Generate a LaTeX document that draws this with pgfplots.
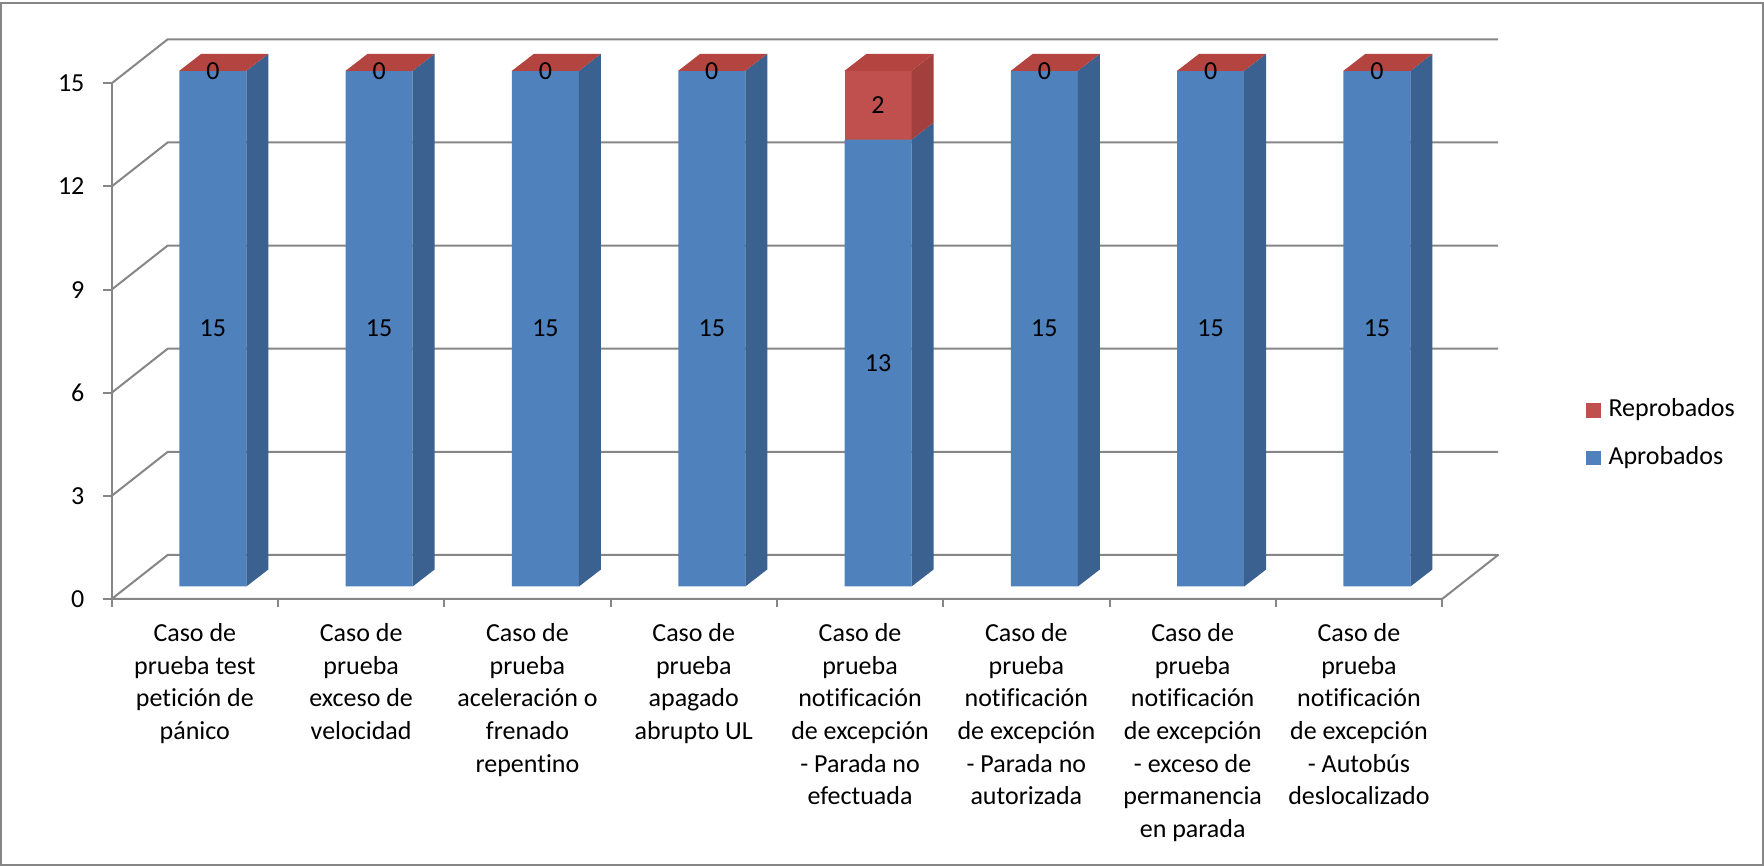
\documentclass[border=0pt]{standalone}
\usepackage{fontspec}
\setmainfont{Carlito}[Ligatures={NoCommon}]
\usepackage{pgfplots}
\pgfplotsset{compat=1.18}
\definecolor{gridc}{HTML}{868686}
\definecolor{blueF}{HTML}{4F81BD}
\definecolor{blueS}{HTML}{3A6190}
\definecolor{redF}{HTML}{C0504D}
\definecolor{redS}{HTML}{A33F3C}
\definecolor{redT}{HTML}{B4443F}
\newcommand\lbl{\fontsize{10.4}{13.04}\selectfont}

\begin{document}
\begin{tikzpicture}
% ---------- main axis: front plane, walls, ticks, labels ----------
\begin{axis}[
  at={(0pt,0pt)}, anchor=south west,
  x=66.52pt, y=13.752pt,
  xmin=0, xmax=8, ymin=0, ymax=15,
  clip=false,
  axis line style={draw=none},
  major tick length=0pt,
  tick style={draw=none},
  xtick={0.5,1.5,2.5,3.5,4.5,5.5,6.5,7.5},
  xticklabels={
    {Caso de\\prueba test\\petición de\\pánico},
    {Caso de\\prueba\\exceso de\\velocidad},
    {Caso de\\prueba\\aceleración o\\frenado\\repentino},
    {Caso de\\prueba\\apagado\\abrupto UL},
    {Caso de\\prueba\\notificación\\de excepción\\- Parada no\\efectuada},
    {Caso de\\prueba\\notificación\\de excepción\\- Parada no\\autorizada},
    {Caso de\\prueba\\notificación\\de excepción\\- exceso de\\permanencia\\en parada},
    {Caso de\\prueba\\notificación\\de excepción\\- Autobús\\deslocalizado}},
  ytick={0,3,6,9,12,15},
  tick label style={font=\lbl, text=black},
  xticklabel style={align=center, anchor=north, yshift=-6.3pt},
  yticklabel style={anchor=east, xshift=-7.4pt},
  /pgf/number format/assume math mode=true,
]
\addplot[draw=none, forget plot] coordinates {(0,0)};
% floor
\draw[gridc, line width=0.8pt, line join=round] (axis cs:0,0) -- (axis cs:0.3367,1.28) -- (axis cs:8.3367,1.28) -- (axis cs:8,0) -- cycle;
% side wall diagonals + back wall grid lines
\draw[gridc, line width=0.8pt, line join=round] (axis cs:0,3) -- (axis cs:0.3367,4.28) -- (axis cs:8.3367,4.28);
\draw[gridc, line width=0.8pt, line join=round] (axis cs:0,6) -- (axis cs:0.3367,7.28) -- (axis cs:8.3367,7.28);
\draw[gridc, line width=0.8pt, line join=round] (axis cs:0,9) -- (axis cs:0.3367,10.28) -- (axis cs:8.3367,10.28);
\draw[gridc, line width=0.8pt, line join=round] (axis cs:0,12) -- (axis cs:0.3367,13.28) -- (axis cs:8.3367,13.28);
\draw[gridc, line width=0.8pt, line join=round] (axis cs:0,15) -- (axis cs:0.3367,16.28) -- (axis cs:8.3367,16.28);
% front vertical axis
\draw[gridc, line width=0.8pt] (axis cs:0,0) -- (axis cs:0,15);
% y ticks
\draw[gridc, line width=0.8pt] (axis cs:0,0) -- ++(-3.5pt,0);
\draw[gridc, line width=0.8pt] (axis cs:0,3) -- ++(-3.5pt,0);
\draw[gridc, line width=0.8pt] (axis cs:0,6) -- ++(-3.5pt,0);
\draw[gridc, line width=0.8pt] (axis cs:0,9) -- ++(-3.5pt,0);
\draw[gridc, line width=0.8pt] (axis cs:0,12) -- ++(-3.5pt,0);
\draw[gridc, line width=0.8pt] (axis cs:0,15) -- ++(-3.5pt,0);
% x ticks (category boundaries)
\draw[gridc, line width=0.8pt] (axis cs:0,0) -- ++(0,-3.2pt);
\draw[gridc, line width=0.8pt] (axis cs:1,0) -- ++(0,-3.2pt);
\draw[gridc, line width=0.8pt] (axis cs:2,0) -- ++(0,-3.2pt);
\draw[gridc, line width=0.8pt] (axis cs:3,0) -- ++(0,-3.2pt);
\draw[gridc, line width=0.8pt] (axis cs:4,0) -- ++(0,-3.2pt);
\draw[gridc, line width=0.8pt] (axis cs:5,0) -- ++(0,-3.2pt);
\draw[gridc, line width=0.8pt] (axis cs:6,0) -- ++(0,-3.2pt);
\draw[gridc, line width=0.8pt] (axis cs:7,0) -- ++(0,-3.2pt);
\draw[gridc, line width=0.8pt] (axis cs:8,0) -- ++(0,-3.2pt);
% legend
\fill[redF] (axis cs:8.8653,5.273) rectangle (axis cs:8.9555,5.692);
\fill[blueF] (axis cs:8.8653,3.883) rectangle (axis cs:8.9555,4.302);
\node[anchor=base west, inner sep=0pt, font=\lbl] at (axis cs:8.9976,5.303) {Reprobados};
\node[anchor=base west, inner sep=0pt, font=\lbl] at (axis cs:8.9976,3.918) {Aprobados};
% outer frame
\draw[gridc, line width=0.8pt] (axis cs:-0.6657,17.321) rectangle (axis cs:9.9296,-7.737);
\coordinate (bbA) at (axis cs:-0.6717,17.423);
\coordinate (bbB) at (axis cs:9.9356,-7.766);
\end{axis}

% ---------- bar fronts (stacked) ----------
\begin{axis}[
  at={(7.2pt,5pt)}, anchor=south west,
  x=66.52pt, y=13.752pt,
  xmin=0, xmax=8, ymin=0, ymax=15,
  hide axis, clip=false,
  ybar stacked, bar width=26.8pt,
]
\addplot[fill=blueF, draw=none] coordinates {(0.5,15) (1.5,15) (2.5,15) (3.5,15) (4.5,13) (5.5,15) (6.5,15) (7.5,15)};
\addplot[fill=redF, draw=none] coordinates {(0.5,0) (1.5,0) (2.5,0) (3.5,0) (4.5,2) (5.5,0) (6.5,0) (7.5,0)};
\end{axis}

% ---------- bar sides, tops and value labels ----------
\begin{axis}[
  at={(7.2pt,5pt)}, anchor=south west,
  x=66.52pt, y=13.752pt,
  xmin=0, xmax=8, ymin=0, ymax=15,
  hide axis, clip=false,
]
% blue side faces
\addplot[fill=blueS, draw=none] coordinates {(0.7015,0) (0.7015,15) (0.8338,15.4945) (0.8338,0.4945)};
\addplot[fill=blueS, draw=none] coordinates {(1.7015,0) (1.7015,15) (1.8338,15.4945) (1.8338,0.4945)};
\addplot[fill=blueS, draw=none] coordinates {(2.7015,0) (2.7015,15) (2.8338,15.4945) (2.8338,0.4945)};
\addplot[fill=blueS, draw=none] coordinates {(3.7015,0) (3.7015,15) (3.8338,15.4945) (3.8338,0.4945)};
\addplot[fill=blueS, draw=none] coordinates {(4.7015,0) (4.7015,13) (4.8338,13.4945) (4.8338,0.4945)};
\addplot[fill=blueS, draw=none] coordinates {(5.7015,0) (5.7015,15) (5.8338,15.4945) (5.8338,0.4945)};
\addplot[fill=blueS, draw=none] coordinates {(6.7015,0) (6.7015,15) (6.8338,15.4945) (6.8338,0.4945)};
\addplot[fill=blueS, draw=none] coordinates {(7.7015,0) (7.7015,15) (7.8338,15.4945) (7.8338,0.4945)};
% red side face
\addplot[fill=redS, draw=none] coordinates {(4.7015,13) (4.7015,15) (4.8338,15.4945) (4.8338,13.4945)};
% red top faces
\addplot[fill=redT, draw=none] coordinates {(0.2985,15) (0.7015,15) (0.8338,15.4945) (0.4308,15.4945)};
\addplot[fill=redT, draw=none] coordinates {(1.2985,15) (1.7015,15) (1.8338,15.4945) (1.4308,15.4945)};
\addplot[fill=redT, draw=none] coordinates {(2.2985,15) (2.7015,15) (2.8338,15.4945) (2.4308,15.4945)};
\addplot[fill=redT, draw=none] coordinates {(3.2985,15) (3.7015,15) (3.8338,15.4945) (3.4308,15.4945)};
\addplot[fill=redT, draw=none] coordinates {(4.2985,15) (4.7015,15) (4.8338,15.4945) (4.4308,15.4945)};
\addplot[fill=redT, draw=none] coordinates {(5.2985,15) (5.7015,15) (5.8338,15.4945) (5.4308,15.4945)};
\addplot[fill=redT, draw=none] coordinates {(6.2985,15) (6.7015,15) (6.8338,15.4945) (6.4308,15.4945)};
\addplot[fill=redT, draw=none] coordinates {(7.2985,15) (7.7015,15) (7.8338,15.4945) (7.4308,15.4945)};
% value labels
\addplot[only marks, mark=none, point meta=explicit symbolic, nodes near coords,
  every node near coord/.append style={anchor=center, font=\lbl, text=black}]
  coordinates {
  (0.5,7.5)[15] (1.5,7.5)[15] (2.5,7.5)[15] (3.5,7.5)[15] (4.5,6.5)[13] (5.5,7.5)[15] (6.5,7.5)[15] (7.5,7.5)[15]
  (0.5,15)[0] (1.5,15)[0] (2.5,15)[0] (3.5,15)[0] (4.5,14)[2] (5.5,15)[0] (6.5,15)[0] (7.5,15)[0]};
\end{axis}
\pgfresetboundingbox
\useasboundingbox (bbA) rectangle (bbB);
\end{tikzpicture}
\end{document}
